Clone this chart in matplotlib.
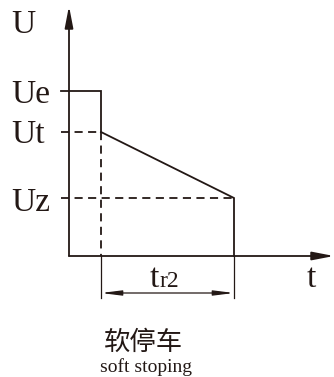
import matplotlib
matplotlib.use("Agg")
import matplotlib.pyplot as plt

# Data (pixel-space schematic levels)
level_names = ["Ue", "Ut", "Uz"]
level_y = [91, 132, 198]        # Ue, Ut, Uz
time_x = [69, 101, 234]         # origin, start of ramp, end of ramp
axis_y0 = 256
axis_top = 6
axis_right = 334

C = "#231815"
LW = 1.3

fig = plt.figure(figsize=(3.34, 3.77), dpi=100)
ax = fig.add_axes([0, 0, 1, 1])
ax.set_xlim(0, 334)
ax.set_ylim(377, 0)
ax.axis("off")

x0, xs, xe = time_x
ue, ut, uz = level_y

# axes with arrows
ax.annotate("", xy=(x0, axis_top), xytext=(x0, axis_y0),
            arrowprops=dict(arrowstyle="-|>,head_length=1.3,head_width=0.25", color=C, lw=LW, shrinkA=0, shrinkB=0))
ax.annotate("", xy=(axis_right, axis_y0), xytext=(x0, axis_y0),
            arrowprops=dict(arrowstyle="-|>,head_length=1.3,head_width=0.25", color=C, lw=LW, shrinkA=0, shrinkB=0))

# curve: Ue plateau, drop to Ut, ramp to Uz, drop to 0
ax.plot([61, xs, xs], [ue, ue, ut], color=C, lw=LW, solid_joinstyle="miter")
ax.plot([xs, xe, xe], [ut, uz, axis_y0], color=C, lw=LW, solid_joinstyle="miter")

# dashed guides
dash = dict(color=C, lw=LW, linestyle=(0, (4.5, 3)))
ax.plot([61, xs], [ut, ut], **dash)
ax.plot([61, xe], [uz, uz], **dash)
ax.plot([xs, xs], [ut, axis_y0], **dash)

# extension lines
ax.plot([xs, xs], [axis_y0, 298], color=C, lw=0.9)
ax.plot([xe, xe], [axis_y0, 298], color=C, lw=0.9)

# dimension arrow
ax.annotate("", xy=(xe, 293), xytext=(xs, 293),
            arrowprops=dict(arrowstyle="<|-|>,head_length=1.2,head_width=0.15", color=C, lw=0.9, shrinkA=0, shrinkB=0))

serif = ["Liberation Serif", "DejaVu Serif"]
fs = 24
ax.text(11, 33, "U", fontsize=fs, family=serif, color=C, ha="left", va="baseline")
ax.text(11, 103, "Ue", fontsize=fs, family=serif, color=C, ha="left", va="baseline")
ax.text(11, 143, "Ut", fontsize=fs, family=serif, color=C, ha="left", va="baseline")
ax.text(11, 211, "Uz", fontsize=fs, family=serif, color=C, ha="left", va="baseline")
ax.text(307, 287, "t", fontsize=fs, family=serif, color=C, ha="left", va="baseline")
ax.text(150, 287, "t", fontsize=fs, family=serif, color=C, ha="left", va="baseline")
ax.text(160, 287, "r2", fontsize=17, family=serif, color=C, ha="left", va="baseline")

ax.text(144, 350, "软停车", fontsize=19, family=["Noto Sans CJK SC", "DejaVu Sans"],
        color=C, ha="center", va="baseline")
ax.text(146, 372, "soft stoping", fontsize=14, family=serif, color=C, ha="center", va="baseline")

fig.savefig("out.png", dpi=100)
